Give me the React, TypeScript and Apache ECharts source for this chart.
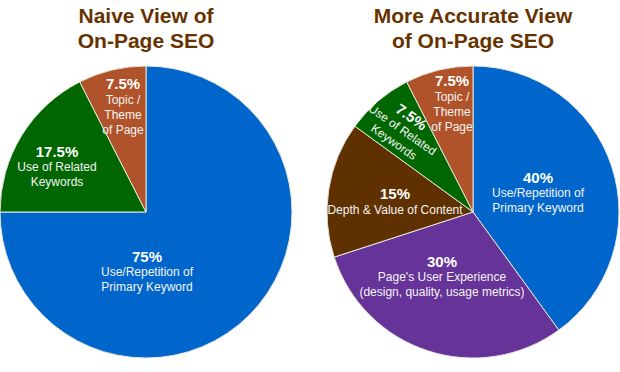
import React, { useEffect, useRef } from "react";
import * as echarts from "echarts";

const leftTitle = "Naive View of\nOn-Page SEO";
const rightTitle = "More Accurate View\nof On-Page SEO";

const leftNames = [
  "Use/Repetition of\nPrimary Keyword",
  "Use of Related\nKeywords",
  "Topic /\nTheme\nof Page",
];
const leftValues = [75, 17.5, 7.5];

const rightNames = [
  "Use/Repetition of\nPrimary Keyword",
  "Page's User Experience\n(design, quality, usage metrics)",
  "Depth & Value of Content",
  "Use of Related\nKeywords",
  "Topic /\nTheme\nof Page",
];
const rightValues = [40, 30, 15, 7.5, 7.5];

const C = {
  blue: "#0066cc",
  orange: "#b0532a",
  green: "#006600",
  brown: "#5f3100",
  purple: "#663399",
  title: "#663300",
};
const leftColors = [C.blue, C.green, C.orange];
const rightColors = [C.blue, C.purple, C.brown, C.green, C.orange];

// label block centres (layout only)
const leftLabelPos = [
  [147, 271],
  [57, 166],
  [123, 106],
];
const rightLabelPos = [
  [538, 192],
  [442, 276],
  [395, 201],
  [403, 129],
  [452, 103],
];

const FONT = "'Liberation Sans', Arial, sans-serif";

function fmt(p: any) {
  return (
    `{p|${p.value}%}\n` +
    String(p.name)
      .split("\n")
      .map((l: string) => `{t|${l}}`)
      .join("\n")
  );
}

const rich = {
  p: { fontSize: 15, fontWeight: "bold", color: "#ffffff", lineHeight: 17, fontFamily: FONT },
  t: { fontSize: 12, color: "#f4f4f4", lineHeight: 15, fontFamily: FONT },
};

function makeSeries(
  names: string[],
  values: number[],
  colors: string[],
  center: number[],
  pos: number[][],
  rotations: Record<number, number>
) {
  return {
    type: "pie",
    center,
    radius: 146,
    startAngle: 90,
    clockwise: true,
    avoidLabelOverlap: false,
    silent: true,
    itemStyle: { borderColor: "#e6e6dc", borderWidth: 1 },
    label: {
      show: true,
      position: "inside",
      formatter: fmt,
      rich,
      align: "center",
    },
    labelLine: { show: false },
    labelLayout: (params: any) => {
      const p = pos[params.dataIndex];
      return { x: p[0], y: p[1], align: "center", verticalAlign: "middle" };
    },
    data: names.map((n, i) => ({
      name: n,
      value: values[i],
      itemStyle: { color: colors[i] },
      label: rotations[i] !== undefined ? { rotate: rotations[i] } : { rotate: 0 },
    })),
  };
}

export default function App() {
  const ref = useRef<HTMLDivElement>(null);
  useEffect(() => {
    document.body.style.margin = "0";
    const chart = echarts.init(ref.current!, null, { renderer: "svg" });
    chart.setOption({
      animation: false,
      backgroundColor: "#ffffff",
      title: [
        {
          text: leftTitle,
          left: 146,
          top: 3,
          textAlign: "center",
          padding: 0,
          textStyle: {
            fontSize: 21,
            fontWeight: "bold",
            color: C.title,
            lineHeight: 25,
            fontFamily: FONT,
          },
        },
        {
          text: rightTitle,
          left: 473,
          top: 3,
          textAlign: "center",
          padding: 0,
          textStyle: {
            fontSize: 21,
            fontWeight: "bold",
            color: C.title,
            lineHeight: 25,
            fontFamily: FONT,
          },
        },
      ],
      series: [
        makeSeries(leftNames, leftValues, leftColors, [146, 212], leftLabelPos, {}),
        makeSeries(rightNames, rightValues, rightColors, [473, 212], rightLabelPos, { 3: -35 }),
      ],
    });
    return () => chart.dispose();
  }, []);
  return <div ref={ref} style={{ width: 620, height: 372 }} />;
}
